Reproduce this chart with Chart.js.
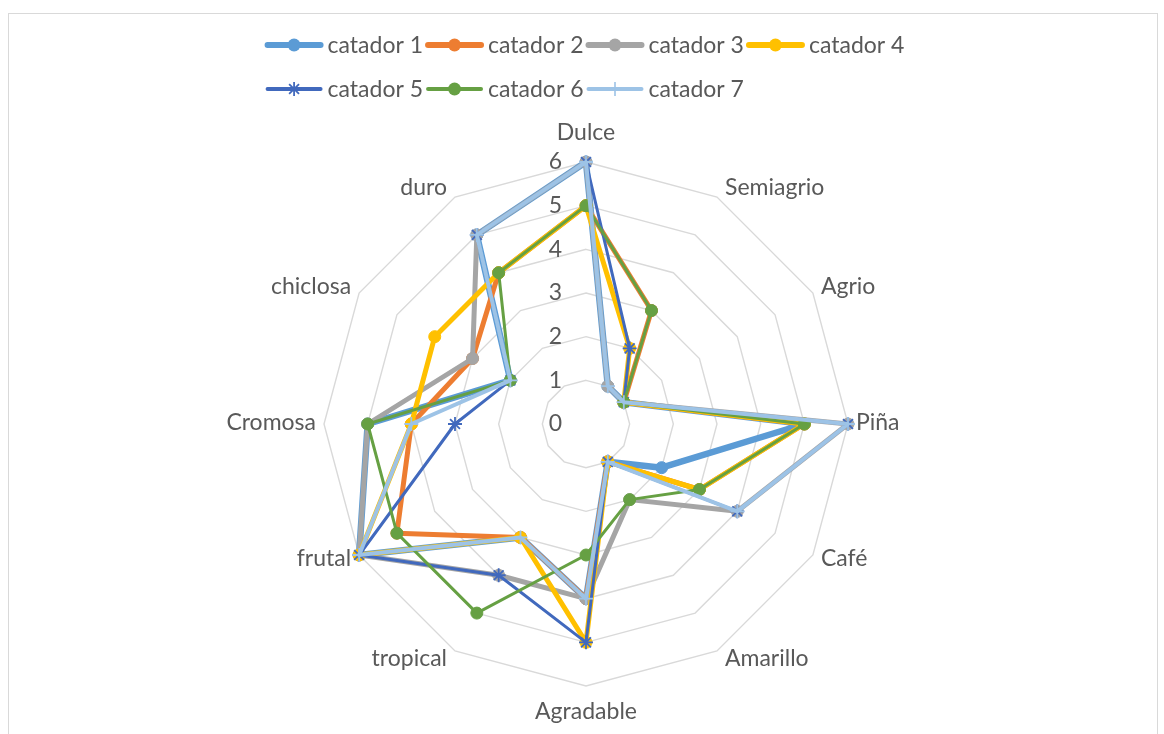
<!DOCTYPE html>
<html>
<head>
<meta charset="utf-8">
<script src="https://cdn.jsdelivr.net/npm/chart.js@4/dist/chart.umd.min.js"></script>
<style>
  html, body { margin: 0; padding: 0; background: #ffffff; }
  #wrap { width: 1164px; height: 734px; position: relative; }
</style>
</head>
<body>
<div id="wrap"><canvas id="radar" width="1164" height="734"></canvas></div>
<script>
// Sensory attributes scored by each taster (scale 0–6)
const categories = ['Dulce', 'Semiagrio', 'Agrio', 'Piña', 'Café', 'Amarillo',
                    'Agradable', 'tropical', 'frutal', 'Cromosa', 'chiclosa', 'duro'];

const catador1 = [6, 1, 1, 5, 2, 1, 4, 3, 6, 5, 2, 5];
const catador2 = [5, 3, 1, 5, 3, 1, 4, 3, 5, 4, 3, 4];
const catador3 = [6, 1, 1, 6, 4, 2, 4, 4, 6, 5, 3, 5];
const catador4 = [5, 2, 1, 5, 3, 1, 5, 3, 6, 4, 4, 4];
const catador5 = [6, 2, 1, 6, 4, 1, 5, 4, 6, 3, 2, 5];
const catador6 = [5, 3, 1, 5, 3, 2, 3, 5, 5, 5, 2, 4];
const catador7 = [6, 1, 1, 6, 4, 1, 4, 3, 6, 4, 2, 5];

const seriesNames = ['catador 1', 'catador 2', 'catador 3', 'catador 4',
                     'catador 5', 'catador 6', 'catador 7'];
const seriesValues = [catador1, catador2, catador3, catador4, catador5, catador6, catador7];

const tickValues = [0, 1, 2, 3, 4, 5, 6];

// Visual style per series
const seriesStyles = [
  { color: '#5B9BD5', width: 6.5, point: 'circle', radius: 6, legendWidth: 6 },
  { color: '#ED7D31', width: 5,   point: 'circle', radius: 6, legendWidth: 6 },
  { color: '#A5A5A5', width: 5,   point: 'circle', radius: 6, legendWidth: 6 },
  { color: '#FFC000', width: 5,   point: 'circle', radius: 6, legendWidth: 6 },
  { color: '#4169BD', width: 3,   point: 'star',   radius: 7, legendWidth: 4 },
  { color: '#66A043', width: 3,   point: 'circle', radius: 6, legendWidth: 4 },
  { color: '#9DC3E6', width: 4,   point: 'cross',  radius: 7, legendWidth: 4 }
];

const TEXT_COLOR = '#595959';
const FONT_FAMILY = 'Lato, "Open Sans", sans-serif';
const FONT_SIZE = 23;

const datasets = seriesValues.map((vals, i) => {
  const s = seriesStyles[i];
  const filled = s.point === 'circle';
  return {
    label: seriesNames[i],
    data: vals,
    borderColor: s.color,
    backgroundColor: s.color,
    borderWidth: s.width,
    fill: false,
    tension: 0,
    pointStyle: s.point,
    pointRadius: s.radius,
    pointBorderWidth: filled ? 1 : 1.8,
    pointBorderColor: s.color,
    pointBackgroundColor: s.color,
    order: seriesValues.length - 1 - i   // later tasters are drawn on top
  };
});

function drawMarker(ctx, style, x, y) {
  ctx.save();
  ctx.strokeStyle = style.color;
  ctx.fillStyle = style.color;
  const r = style.radius;
  if (style.point === 'circle') {
    ctx.beginPath();
    ctx.arc(x, y, r + 0.5, 0, Math.PI * 2);
    ctx.fill();
  } else if (style.point === 'star') {
    ctx.lineWidth = 1.8;
    ctx.beginPath();
    for (let k = 0; k < 4; k++) {
      const a = k * Math.PI / 4;
      ctx.moveTo(x - r * Math.cos(a), y - r * Math.sin(a));
      ctx.lineTo(x + r * Math.cos(a), y + r * Math.sin(a));
    }
    ctx.stroke();
  } else if (style.point === 'cross') {
    ctx.lineWidth = 1.6;
    ctx.beginPath();
    ctx.moveTo(x - r, y); ctx.lineTo(x + r, y);
    ctx.moveTo(x, y - r); ctx.lineTo(x, y + r);
    ctx.stroke();
  }
  ctx.restore();
}

// Axis numbers, attribute names, legend and frame
const annotations = {
  id: 'annotations',
  afterDraw(chart) {
    const ctx = chart.ctx;
    const scale = chart.scales.r;
    ctx.save();
    ctx.font = FONT_SIZE + 'px ' + FONT_FAMILY;
    ctx.fillStyle = TEXT_COLOR;
    ctx.textBaseline = 'middle';

    // value ticks, to the left of the vertical axis
    ctx.textAlign = 'right';
    tickValues.forEach(v => {
      const d = scale.getDistanceFromCenterForValue(v);
      ctx.fillText(String(v), scale.xCenter - 24, scale.yCenter - d);
    });

    // attribute names around the web
    const R = scale.drawingArea;
    categories.forEach((name, i) => {
      const p = scale.getPointPosition(i, R);
      const a = scale.getIndexAngle(i);
      const s = Math.sin(a), c = Math.cos(a);
      if (Math.abs(s) < 0.01) {
        ctx.textAlign = 'center';
        ctx.fillText(name, p.x, c > 0 ? p.y - 29 : p.y + 26);
      } else {
        ctx.textAlign = s > 0 ? 'left' : 'right';
        ctx.fillText(name, p.x + (s > 0 ? 8 : -8), p.y - 10 * c - 1);
      }
    });

    // legend: two rows, left-aligned in a block centred on the chart
    const symW = 57, gapAfterSym = 5, gapAfterText = 3;
    const rows = [[0, 1, 2, 3], [4, 5, 6]];
    const rowY = [45, 89];
    const itemW = i => symW + gapAfterSym + ctx.measureText(seriesNames[i]).width + gapAfterText;
    const rowWidths = rows.map(r => r.reduce((t, i) => t + itemW(i), 0) - gapAfterText);
    const blockW = Math.max(...rowWidths);
    const startX = scale.xCenter - 1 - blockW / 2;
    ctx.textAlign = 'left';
    rows.forEach((r, ri) => {
      let x = startX;
      const y = rowY[ri];
      r.forEach(i => {
        const st = seriesStyles[i];
        ctx.save();
        ctx.strokeStyle = st.color;
        ctx.lineWidth = st.legendWidth;
        ctx.lineCap = 'round';
        ctx.beginPath();
        ctx.moveTo(x + 2, y);
        ctx.lineTo(x + symW - 2, y);
        ctx.stroke();
        ctx.restore();
        drawMarker(ctx, st, x + symW / 2, y);
        ctx.fillStyle = TEXT_COLOR;
        ctx.fillText(seriesNames[i], x + symW + gapAfterSym, y + 1);
        x += itemW(i);
      });
    });

    // outer frame
    ctx.strokeStyle = '#D9D9D9';
    ctx.lineWidth = 1;
    ctx.strokeRect(8.5, 13.5, 1149, 740);
    ctx.restore();
  }
};

new Chart(document.getElementById('radar'), {
  type: 'radar',
  data: { labels: categories, datasets },
  options: {
    responsive: false,
    animation: false,
    devicePixelRatio: 1,
    layout: { padding: { top: 162, bottom: 48, left: 8, right: 0 } },
    plugins: {
      legend: { display: false },
      tooltip: { enabled: false }
    },
    elements: { line: { borderJoinStyle: 'round' } },
    scales: {
      r: {
        min: 0,
        max: 6,
        beginAtZero: true,
        angleLines: { display: false },
        grid: { color: '#D9D9D9', lineWidth: 1.4, circular: false },
        ticks: { display: false, stepSize: 1 },
        pointLabels: { display: false }
      }
    }
  },
  plugins: [annotations]
});
</script>
</body>
</html>
